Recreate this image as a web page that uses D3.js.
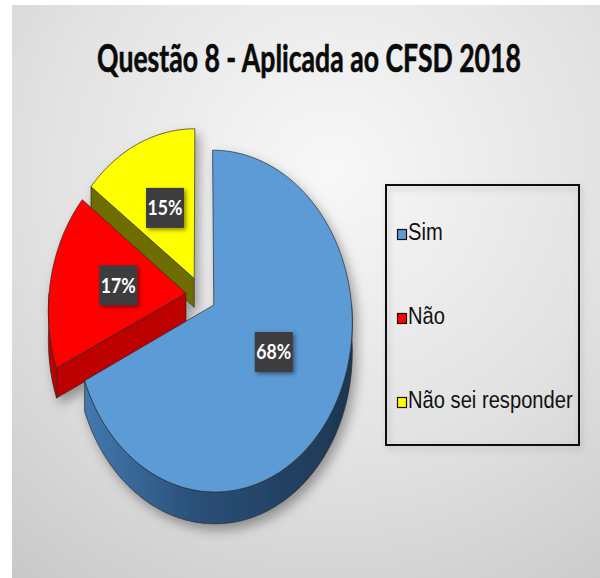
<!DOCTYPE html>
<html>
<head>
<meta charset="utf-8">
<script src="https://cdn.jsdelivr.net/npm/d3@7"></script>
<style>
  html, body { margin: 0; padding: 0; background: #ffffff; }
  svg { display: block; }
</style>
</head>
<body>
<svg id="chart" width="600" height="578"></svg>
<script>
// Survey answers, question 8 (CFSD 2018)
const title = "Questão 8 - Aplicada ao CFSD 2018";
const categories = ["Sim", "Não", "Não sei responder"];
const values = [68, 17, 15];
const labels = ["68%", "17%", "15%"];

const topColors = ["#5b9bd5", "#ff0000", "#ffff00"];
const sideColors = ["url(#blueWall)", "#bd0000", "#6e6d00"];

const svg = d3.select("#chart");
const defs = svg.append("defs");

// panel background
const bg = defs.append("radialGradient").attr("id", "panelBg")
  .attr("gradientUnits", "userSpaceOnUse")
  .attr("cx", 330).attr("cy", 170).attr("r", 520);
bg.append("stop").attr("offset", "0%").attr("stop-color", "#f8f8f8");
bg.append("stop").attr("offset", "55%").attr("stop-color", "#e2e2e2");
bg.append("stop").attr("offset", "100%").attr("stop-color", "#c8c8c8");

const wall = defs.append("linearGradient").attr("id", "blueWall")
  .attr("gradientUnits", "userSpaceOnUse")
  .attr("x1", 85).attr("y1", 0).attr("x2", 355).attr("y2", 0);
wall.append("stop").attr("offset", "0%").attr("stop-color", "#4279b0");
wall.append("stop").attr("offset", "40%").attr("stop-color", "#2b5079");
wall.append("stop").attr("offset", "100%").attr("stop-color", "#1d3651");

const pieShadow = defs.append("filter").attr("id", "pieShadow")
  .attr("x", "-20%").attr("y", "-20%").attr("width", "150%").attr("height", "150%");
pieShadow.append("feDropShadow").attr("dx", 4).attr("dy", 6)
  .attr("stdDeviation", 6).attr("flood-color", "#000").attr("flood-opacity", 0.35);

const boxShadow = defs.append("filter").attr("id", "boxShadow")
  .attr("x", "-30%").attr("y", "-30%").attr("width", "170%").attr("height", "170%");
boxShadow.append("feDropShadow").attr("dx", 2).attr("dy", 2)
  .attr("stdDeviation", 2).attr("flood-color", "#000").attr("flood-opacity", 0.45);

const legendShadow = defs.append("filter").attr("id", "legendShadow")
  .attr("x", "-10%").attr("y", "-10%").attr("width", "130%").attr("height", "130%");
legendShadow.append("feDropShadow").attr("dx", 2).attr("dy", 3)
  .attr("stdDeviation", 3).attr("flood-color", "#000").attr("flood-opacity", 0.2);

svg.append("rect").attr("x", 12).attr("y", 5).attr("width", 588).attr("height", 573)
  .attr("fill", "url(#panelBg)");

// title, condensed to its box width
const titleText = svg.append("text")
  .attr("font-family", "Lato, 'Open Sans', sans-serif")
  .attr("font-weight", 700).attr("font-size", 39)
  .attr("text-anchor", "middle").attr("fill", "#0a0a0a")
  .attr("stroke", "#0a0a0a").attr("stroke-width", 0.6)
  .text(title);
const tw = titleText.node().getComputedTextLength();
titleText.attr("transform", `translate(309,72) scale(${424 / tw},1)`);

// ---- tilted 3D pie ----
const cx = 201, cy = 295, rx = 137, ry = 169, persp = 0.095, depth = 29, explode = 0.11;

function proj(u, v, z) {
  const s = 1 + persp * v;
  return [cx + rx * u * s, cy + ry * v * s + depth * z * s];
}
const dir = a => [Math.sin(a), -Math.cos(a)];

const arcs = d3.pie().sort(null).value(d => d)(values);
const line = d3.line();
const step = Math.PI / 180;

function arcPts(off, a0, a1, z) {
  const pts = [];
  const n = Math.max(2, Math.ceil((a1 - a0) / step));
  for (let i = 0; i <= n; i++) {
    const a = a0 + (a1 - a0) * i / n;
    const d = dir(a);
    pts.push(proj(off[0] + d[0], off[1] + d[1], z));
  }
  return pts;
}

const slices = arcs.map((p, i) => {
  const mid = (p.startAngle + p.endAngle) / 2;
  const m = dir(mid);
  return { i, a0: p.startAngle, a1: p.endAngle, mid, off: [m[0] * explode, m[1] * explode] };
});

const pie = svg.append("g").attr("filter", "url(#pieShadow)");
const stroke = "#2b2b2b", sw = 0.7;

// side faces, back to front
const sideOrder = slices.slice().sort((a, b) => (-Math.cos(a.mid)) - (-Math.cos(b.mid)));
sideOrder.forEach(s => {
  const apexT = proj(s.off[0], s.off[1], 0), apexB = proj(s.off[0], s.off[1], 1);
  const radial = a => {
    const d = dir(a);
    const eT = proj(s.off[0] + d[0], s.off[1] + d[1], 0);
    const eB = proj(s.off[0] + d[0], s.off[1] + d[1], 1);
    pie.append("path").attr("d", line([apexT, eT, eB, apexB]) + "Z")
      .attr("fill", sideColors[s.i]).attr("stroke", stroke).attr("stroke-width", sw)
      .attr("stroke-linejoin", "round");
  };
  if (Math.sin(s.a0) < -1e-6) radial(s.a0);
  if (Math.sin(s.a1) > 1e-6) radial(s.a1);
  const lo = Math.max(s.a0, Math.PI / 2), hi = Math.min(s.a1, 3 * Math.PI / 2);
  if (hi > lo) {
    const top = arcPts(s.off, lo, hi, 0), bot = arcPts(s.off, lo, hi, 1).reverse();
    pie.append("path").attr("d", line(top.concat(bot)) + "Z")
      .attr("fill", sideColors[s.i]).attr("stroke", stroke).attr("stroke-width", sw)
      .attr("stroke-linejoin", "round");
  }
});

// top faces
slices.forEach(s => {
  const pts = [proj(s.off[0], s.off[1], 0)].concat(arcPts(s.off, s.a0, s.a1, 0));
  pie.append("path").attr("d", line(pts) + "Z")
    .attr("fill", topColors[s.i]).attr("stroke", stroke).attr("stroke-width", sw)
    .attr("stroke-linejoin", "round");
});

// data labels
const lab = svg.append("g");
slices.forEach(s => {
  const m = dir(s.mid);
  const [x, y] = proj(s.off[0] + m[0] * 0.5, s.off[1] + m[1] * 0.5, 0);
  lab.append("rect").attr("x", x - 19).attr("y", y - 20).attr("width", 38).attr("height", 40)
    .attr("fill", "#3d3d3f").attr("filter", "url(#boxShadow)");
  lab.append("text")
    .attr("transform", `translate(${x},${y + 7.5}) scale(0.84,1)`)
    .attr("text-anchor", "middle")
    .attr("font-family", "Lato, 'Open Sans', sans-serif")
    .attr("font-weight", 700).attr("font-size", 21).attr("fill", "#ffffff")
    .text(labels[s.i]);
});

// legend
const legend = svg.append("g");
legend.append("rect").attr("x", 386).attr("y", 185).attr("width", 193).attr("height", 260)
  .attr("fill", "none").attr("stroke", "#111").attr("stroke-width", 2)
  .attr("filter", "url(#legendShadow)");
const rowY = d3.scalePoint().domain(categories).range([240, 408]);
categories.forEach((c, i) => {
  const y = rowY(c);
  legend.append("rect").attr("x", 397.5).attr("y", y - 10.5).attr("width", 9).attr("height", 10)
    .attr("fill", topColors[i]).attr("stroke", "#111").attr("stroke-width", 1.2);
  legend.append("text")
    .attr("transform", `translate(408,${y}) scale(0.84,1)`)
    .attr("font-family", "'Liberation Sans', Arial, sans-serif")
    .attr("font-size", 24).attr("fill", "#111")
    .text(c);
});
</script>
</body>
</html>
